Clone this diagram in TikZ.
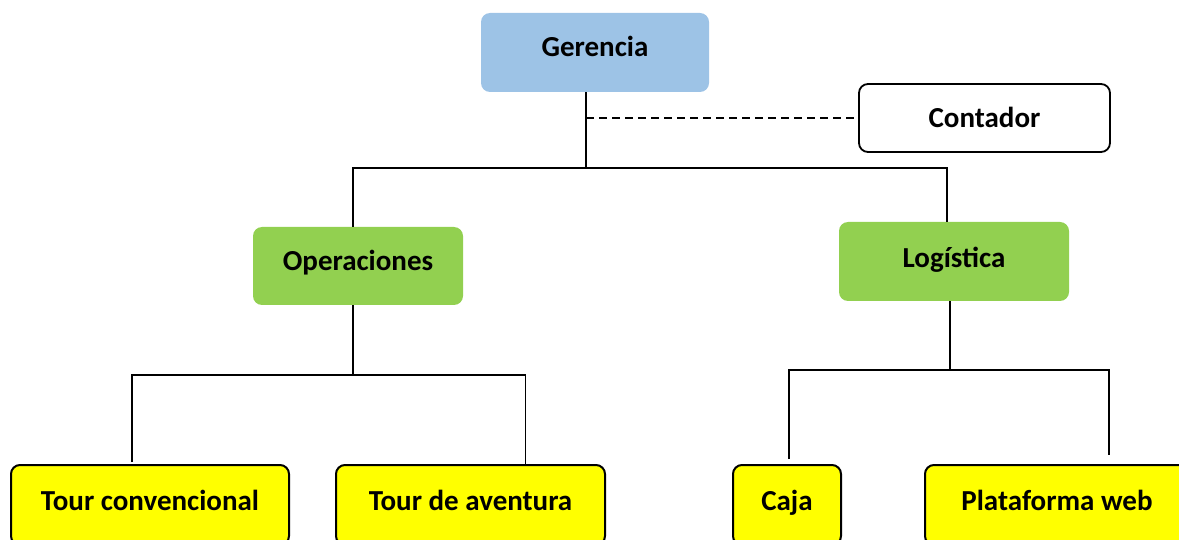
\documentclass[tikz,border=0pt]{standalone}
\usepackage{fontspec}
\setmainfont{Carlito}
\usepackage{tikz}

\definecolor{azul}{HTML}{9DC3E6}
\definecolor{verde}{HTML}{92D050}
\definecolor{amarillo}{HTML}{FFFF00}

\tikzset{
  caja/.style={rounded corners=9pt, align=center, inner sep=0pt, text height=20pt, font=\bfseries\fontsize{29}{33}\selectfont},
  jefe/.style={caja, fill=azul},
  area/.style={caja, fill=verde},
  aux/.style={caja, draw=black, line width=1.8pt, fill=white},
  puesto/.style={caja, draw=black, line width=2pt, fill=amarillo, text depth=10pt, minimum height=80pt},
  linea/.style={black, line width=1.2pt}
}

\begin{document}
\begin{tikzpicture}[x=1pt,y=-1pt]
\useasboundingbox (0,0) rectangle (1179,540);
\clip (0,0) rectangle (1179,540);

\node[jefe, minimum width=228pt, minimum height=79pt, text depth=12pt] (ger) at (595,52.5) {Gerencia};
\node[aux, minimum width=251pt, minimum height=68pt, text depth=1pt] (cont) at (984.5,118) {Contador};

\node[area, minimum width=210pt, minimum height=78pt, text depth=10pt] (ope) at (358,266) {Operaciones};
\node[area, minimum width=230pt, minimum height=79pt, text depth=7pt] (log) at (954,261.5) {Log\'istica};

\node[puesto, minimum width=278pt] (tc) at (150,505) {Tour convencional};
\node[puesto, minimum width=269pt] (ta) at (470.5,505) {Tour de aventura};
\node[puesto, minimum width=108pt] (cj) at (787,505) {Caja};
\node[puesto, minimum width=264pt] (pw) at (1057,505) {Plataforma web};

\coordinate (j1) at (586,168);
\coordinate (j2) at (353,375);
\coordinate (j3) at (950,370);

% gerencia
\draw[linea] (ger.south -| j1) -- (j1);
\draw[black, line width=1.2pt, dash pattern=on 8pt off 5pt] (cont.west -| j1) -- (cont.west);
\draw[linea] ([xshift=-5pt]ope.north) |- (j1) -| ([xshift=-7pt]log.north);

% operaciones
\draw[linea] (ope.south -| j2) -- (j2);
\draw[linea] ([xshift=-18pt,yshift=2pt]tc.north) |- (j2) -| ([xshift=55pt]ta.north);

% logistica
\draw[linea] (log.south -| j3) -- (j3);
\draw[linea] ([xshift=2pt,yshift=5pt]cj.north) |- (j3) -| ([xshift=52pt,yshift=9pt]pw.north);
\end{tikzpicture}
\end{document}
